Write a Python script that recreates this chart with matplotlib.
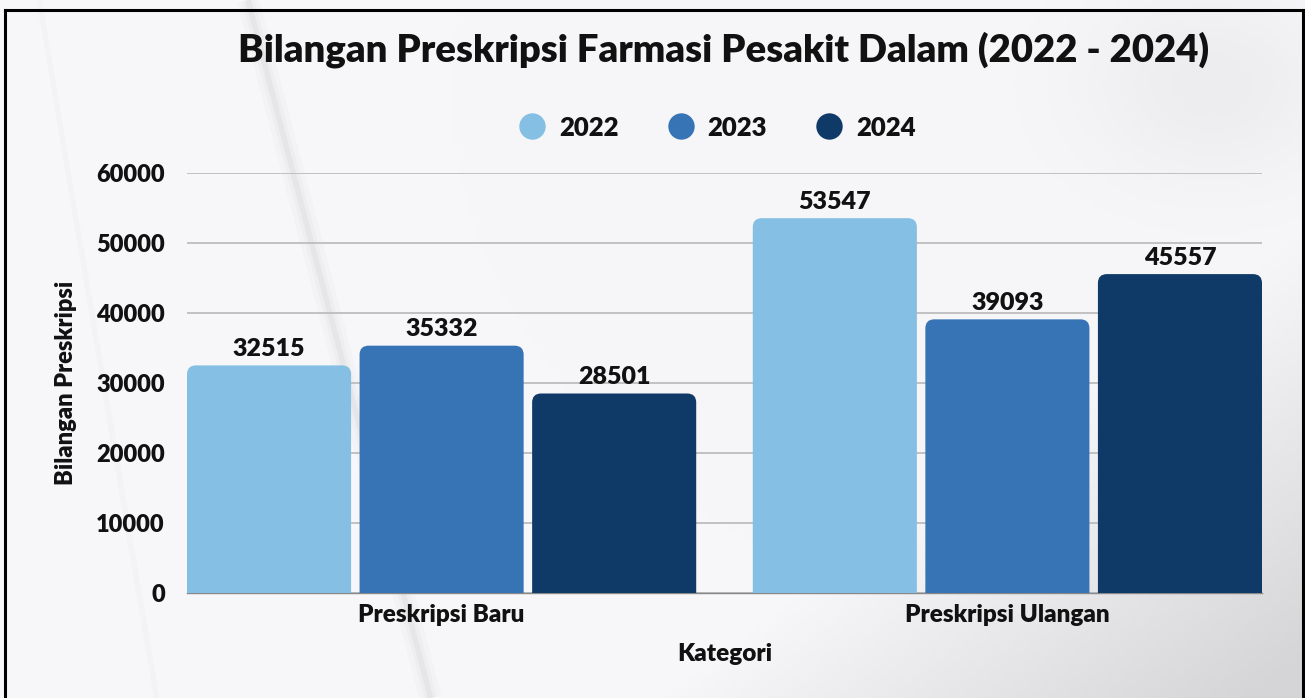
import numpy as np
import matplotlib
matplotlib.use("Agg")
import matplotlib.pyplot as plt
from matplotlib.patches import FancyBboxPatch
from matplotlib.lines import Line2D

# ---- data ----
categories = ["Preskripsi Baru", "Preskripsi Ulangan"]
years = ["2022", "2023", "2024"]
values_2022 = [32515, 53547]
values_2023 = [35332, 39093]
values_2024 = [28501, 45557]
yticks = [0, 10000, 20000, 30000, 40000, 50000, 60000]

colors = ["#85BFE3", "#3774B5", "#0F3A67"]
FONT = ["Lato", "DejaVu Sans"]
WT = "heavy"
plt.rcParams["font.family"] = FONT
plt.rcParams["font.weight"] = WT

W, H, DPI = 1305, 698, 100
fig = plt.figure(figsize=(W / DPI, H / DPI), dpi=DPI)

# ---- background (soft photo-like gradient) ----
bg = fig.add_axes([0, 0, 1, 1], zorder=-10)
yy, xx = np.mgrid[0:1:200j, 0:1:380j]
base = np.full(xx.shape, 247.0)
d = np.clip((xx - 0.80) * 2.2 + (yy - 0.60) * 1.6, 0, None)
base -= 34 * np.clip(d, 0, 1)
d2 = np.exp(-((xx - 0.93) ** 2) / 0.01 - ((yy - 0.12) ** 2) / 0.02)
base -= 10 * d2
img = np.dstack([base, base, base + 2]) / 255.0
bg.imshow(np.clip(img, 0, 1), extent=[0, 1, 0, 1], aspect="auto", origin="upper")
for lw, a in [(16, 0.015), (9, 0.02), (4, 0.03)]:
    bg.plot([0.19, 0.33], [1.0, 0.0], color="#000000", alpha=a, lw=lw, solid_capstyle="butt")
bg.plot([0.03, 0.12], [1.0, 0.0], color="#000000", alpha=0.015, lw=4)
bg.set_xlim(0, 1)
bg.set_ylim(0, 1)
bg.axis("off")

# border (top, left, right)
fig.add_artist(Line2D([5 / W, 5 / W], [0, 1 - 10 / H], color="black", lw=2.2))
fig.add_artist(Line2D([5 / W, 1303 / W], [1 - 10 / H, 1 - 10 / H], color="black", lw=2.2))
fig.add_artist(Line2D([1303 / W, 1303 / W], [0, 1 - 10 / H], color="black", lw=2.2))

# ---- main axes ----
ax = fig.add_axes([187 / W, 1 - 593 / H, (1262 - 187) / W, (593 - 173) / H])
ax.patch.set_alpha(0)

x = np.arange(len(categories))
step = 0.305
width = 0.29
series = [values_2022, values_2023, values_2024]

ax.set_xlim(-0.45, 1.45)
ax.set_ylim(0, 60000)

# pixel scales for rounded corners
px_x = 1.9 / (1262 - 187)
px_y = 60000 / (593 - 173)
r_px = 9
aspect = px_y / px_x

for i, vals in enumerate(series):
    for j, v in enumerate(vals):
        left = x[j] + (i - 1) * step - width / 2
        bottom = -3000
        p = FancyBboxPatch((left, bottom), width, v - bottom,
                           boxstyle=f"round,pad=0,rounding_size={r_px * px_x}",
                           mutation_aspect=aspect,
                           facecolor=colors[i], edgecolor="none", zorder=3)
        ax.add_patch(p)
        ax.annotate(f"{v}", (x[j] + (i - 1) * step, v), xytext=(0, 4),
                    textcoords="offset points", ha="center", va="bottom",
                    fontsize=18, fontweight=WT, color="#111111", zorder=4)

ax.set_yticks(yticks)
ax.set_yticklabels([str(t) for t in yticks])
ax.yaxis.grid(True, color="#BDBDBD", lw=1.3, zorder=0)
ax.set_axisbelow(True)
ax.tick_params(axis="y", length=0, pad=16, labelsize=17)
ax.set_xticks(x)
ax.set_xticklabels(categories)
ax.tick_params(axis="x", length=0, pad=8, labelsize=17.5)
for lbl in ax.get_xticklabels() + ax.get_yticklabels():
    lbl.set_fontweight(WT)
    lbl.set_color("#111111")
for s in ["top", "right", "left"]:
    ax.spines[s].set_visible(False)
ax.spines["bottom"].set_color("#888888")
ax.spines["bottom"].set_linewidth(1.0)

ax.set_ylabel("Bilangan Preskripsi", fontsize=17, fontweight=WT, labelpad=14, color="#111111")
ax.set_xlabel("Kategori", fontsize=17.5, fontweight=WT, labelpad=12, color="#111111")

# ---- title ----
fig.text(724 / W, 1 - 50 / H, "Bilangan Preskripsi Farmasi Pesakit Dalam (2022 - 2024)",
         ha="center", va="center", fontsize=27.5, fontweight=WT, color="#111111")

# ---- legend (manual layout) ----
leg_y = 1 - 126 / H
for k, (yr, c) in enumerate(zip(years, colors)):
    cx = (532 + 148.5 * k) / W
    fig.add_artist(Line2D([cx], [leg_y], marker="o", linestyle="none", markersize=19,
                          markerfacecolor=c, markeredgecolor="none"))
    fig.text(cx + 27 / W, leg_y, yr, ha="left", va="center_baseline",
             fontsize=18.5, fontweight=WT, color="#111111")

fig.savefig("out.png", dpi=DPI)
